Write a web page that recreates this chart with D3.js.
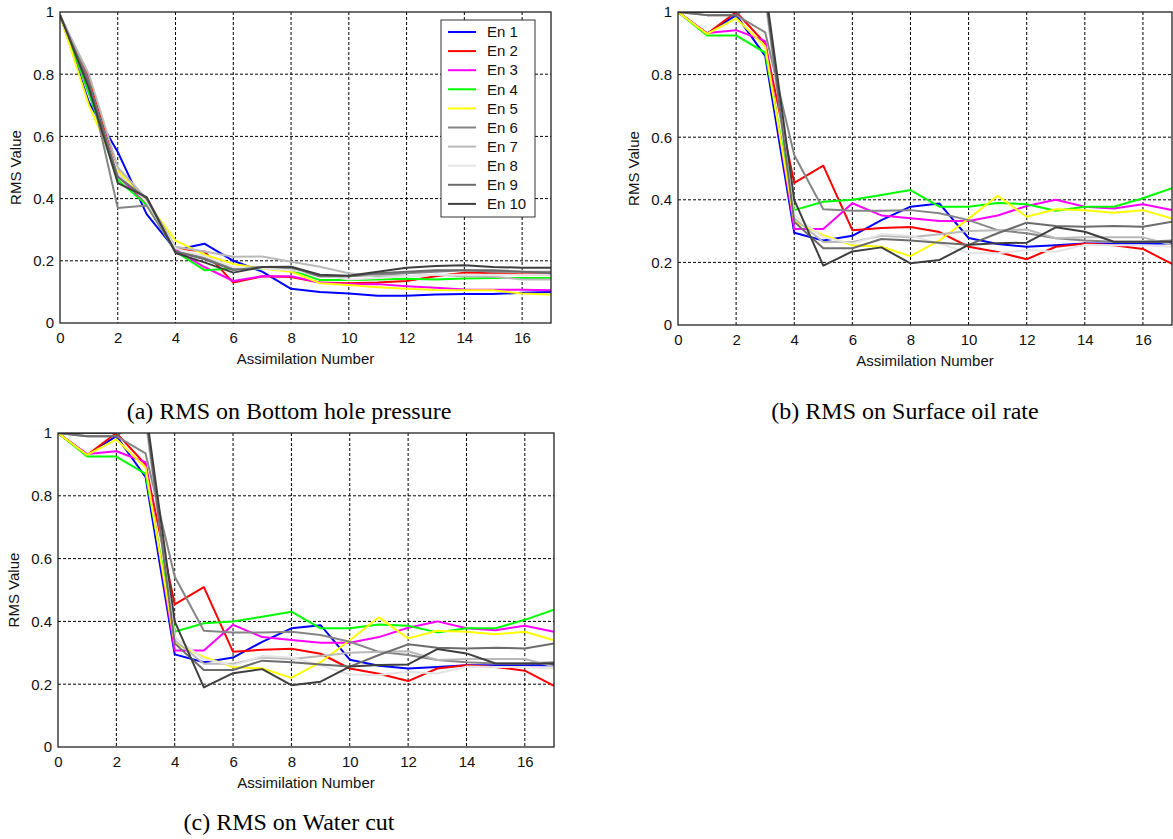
<!DOCTYPE html>
<html>
<head>
<meta charset="utf-8">
<script src="https://cdn.jsdelivr.net/npm/d3@7"></script>
<style>
  body { margin: 0; background: #fff; }
  text { font-family: "Liberation Sans", Arial, sans-serif; }
  text.caption { font-family: "Liberation Serif", "Times New Roman", serif; }
</style>
</head>
<body>
<div id="canvas"></div>
<script>
const steps = [0, 1, 2, 3, 4, 5, 6, 7, 8, 9, 10, 11, 12, 13, 14, 15, 16, 17];
const ensembles = ["En 1", "En 2", "En 3", "En 4", "En 5", "En 6", "En 7", "En 8", "En 9", "En 10"];
const ensembleColors = ["#0000ff", "#ff0000", "#ff00ff", "#00ff00", "#ffff00",
                        "#858585", "#b9b9b9", "#e4e4e4", "#6c6c6c", "#3f3f3f"];
const xTicks = [0, 2, 4, 6, 8, 10, 12, 14, 16];
const yTicks = [0, 0.2, 0.4, 0.6, 0.8, 1];

// (a) bottom hole pressure, one row per ensemble
const bhpRms = [
  [0.99, 0.71, 0.55, 0.35, 0.235, 0.255, 0.20, 0.165, 0.11, 0.10, 0.095, 0.088, 0.088, 0.092, 0.093, 0.093, 0.097, 0.10],
  [0.99, 0.79, 0.49, 0.38, 0.24, 0.23, 0.13, 0.15, 0.148, 0.13, 0.128, 0.13, 0.135, 0.15, 0.162, 0.16, 0.157, 0.157],
  [0.99, 0.74, 0.475, 0.38, 0.235, 0.18, 0.135, 0.15, 0.15, 0.13, 0.125, 0.125, 0.118, 0.113, 0.108, 0.107, 0.107, 0.105],
  [0.99, 0.74, 0.46, 0.38, 0.23, 0.17, 0.175, 0.175, 0.17, 0.138, 0.138, 0.14, 0.142, 0.14, 0.143, 0.145, 0.145, 0.145],
  [0.99, 0.70, 0.49, 0.39, 0.265, 0.22, 0.19, 0.175, 0.165, 0.128, 0.122, 0.115, 0.11, 0.106, 0.105, 0.105, 0.095, 0.092],
  [0.99, 0.78, 0.37, 0.378, 0.23, 0.21, 0.175, 0.18, 0.175, 0.15, 0.15, 0.155, 0.16, 0.165, 0.17, 0.165, 0.165, 0.165],
  [0.99, 0.80, 0.50, 0.40, 0.245, 0.23, 0.213, 0.214, 0.197, 0.181, 0.16, 0.15, 0.15, 0.155, 0.15, 0.149, 0.14, 0.14],
  [0.99, 0.76, 0.48, 0.39, 0.24, 0.215, 0.18, 0.175, 0.17, 0.155, 0.14, 0.145, 0.15, 0.155, 0.155, 0.155, 0.155, 0.155],
  [0.99, 0.77, 0.47, 0.40, 0.23, 0.205, 0.17, 0.18, 0.18, 0.15, 0.15, 0.16, 0.165, 0.17, 0.17, 0.17, 0.165, 0.16],
  [0.99, 0.755, 0.45, 0.405, 0.225, 0.195, 0.162, 0.18, 0.181, 0.155, 0.152, 0.165, 0.178, 0.183, 0.186, 0.18, 0.178, 0.178]
];

// (b) surface oil rate
const oilRms = [
  [1, 0.93, 0.99, 0.86, 0.295, 0.27, 0.285, 0.335, 0.378, 0.388, 0.278, 0.259, 0.25, 0.255, 0.26, 0.26, 0.26, 0.26],
  [1, 0.93, 1.0, 0.90, 0.454, 0.509, 0.303, 0.31, 0.313, 0.297, 0.25, 0.233, 0.21, 0.25, 0.26, 0.255, 0.243, 0.195],
  [1, 0.933, 0.942, 0.907, 0.307, 0.307, 0.389, 0.35, 0.341, 0.332, 0.332, 0.35, 0.38, 0.40, 0.378, 0.372, 0.386, 0.367],
  [1, 0.925, 0.925, 0.87, 0.367, 0.394, 0.40, 0.415, 0.431, 0.378, 0.378, 0.39, 0.386, 0.365, 0.378, 0.378, 0.405, 0.437],
  [1, 0.93, 0.98, 0.89, 0.33, 0.287, 0.255, 0.25, 0.22, 0.27, 0.34, 0.413, 0.346, 0.37, 0.367, 0.359, 0.367, 0.34],
  [1, 0.99, 0.99, 0.935, 0.543, 0.37, 0.365, 0.365, 0.367, 0.357, 0.335, 0.303, 0.293, 0.277, 0.27, 0.266, 0.266, 0.27],
  [1, 1.0, 1.0, 1.04, 0.34, 0.265, 0.265, 0.285, 0.28, 0.29, 0.30, 0.303, 0.305, 0.277, 0.28, 0.28, 0.28, 0.256],
  [1, 1.0, 1.0, 1.05, 0.35, 0.28, 0.26, 0.29, 0.285, 0.26, 0.231, 0.229, 0.24, 0.234, 0.256, 0.255, 0.255, 0.25],
  [1, 0.99, 0.99, 1.06, 0.33, 0.245, 0.245, 0.275, 0.27, 0.263, 0.256, 0.293, 0.327, 0.316, 0.314, 0.316, 0.314, 0.33],
  [1, 1.0, 1.0, 1.08, 0.40, 0.19, 0.235, 0.248, 0.197, 0.208, 0.256, 0.261, 0.263, 0.312, 0.298, 0.266, 0.266, 0.266]
];

// (c) water cut -- same curves as (b) in the figure
const waterRms = oilRms.map(row => row.slice());

const svg = d3.select("#canvas").append("svg")
            .attr("width", 1173)
            .attr("height", 839);

function drawPanel(id, box, series, caption, showLegend) {
    const x = d3.scaleLinear().domain([0, 17]).range([box.left, box.right]);
    const y = d3.scaleLinear().domain([0, 1]).range([box.bottom, box.top]);

    const g = svg.append("g");

    g.append("clipPath").attr("id", id)
     .append("rect")
     .attr("x", box.left).attr("y", box.top)
     .attr("width", box.right - box.left).attr("height", box.bottom - box.top);

    // dashed grid
    g.append("g").selectAll("line")
     .data(xTicks.filter(t => t > 0))
     .join("line")
     .attr("x1", d => x(d)).attr("x2", d => x(d))
     .attr("y1", box.top).attr("y2", box.bottom)
     .attr("stroke", "#000").attr("stroke-dasharray", "3,2");
    g.append("g").selectAll("line")
     .data(yTicks.filter(t => t > 0 && t < 1))
     .join("line")
     .attr("x1", box.left).attr("x2", box.right)
     .attr("y1", d => y(d)).attr("y2", d => y(d))
     .attr("stroke", "#000").attr("stroke-dasharray", "3,2");

    const line = d3.line().x((d, i) => x(steps[i])).y(d => y(d));

    g.append("g").attr("clip-path", `url(#${id})`)
     .selectAll("path")
     .data(series)
     .join("path")
     .attr("d", line)
     .attr("fill", "none")
     .attr("stroke", (d, i) => ensembleColors[i])
     .attr("stroke-width", 2)
     .attr("stroke-linejoin", "round");

    // frame
    g.append("rect")
     .attr("x", box.left).attr("y", box.top)
     .attr("width", box.right - box.left).attr("height", box.bottom - box.top)
     .attr("fill", "none").attr("stroke", "#222").attr("stroke-width", 1.3);

    const xAxis = d3.axisBottom(x).tickValues(xTicks).tickSize(0).tickPadding(9);
    const yAxis = d3.axisLeft(y).tickValues(yTicks).tickSize(0).tickPadding(6)
                    .tickFormat(d => String(d));

    const xg = g.append("g").attr("transform", `translate(0,${box.bottom})`).call(xAxis);
    const yg = g.append("g").attr("transform", `translate(${box.left},0)`).call(yAxis);
    [xg, yg].forEach(a => {
        a.select(".domain").remove();
        a.selectAll("text").attr("font-size", 15).attr("fill", "#111")
         .attr("font-family", "'Liberation Sans', Arial, sans-serif");
    });

    g.append("text")
     .attr("x", (box.left + box.right) / 2)
     .attr("y", box.bottom + 41)
     .attr("text-anchor", "middle")
     .attr("font-size", 15).attr("fill", "#111")
     .text("Assimilation Number");

    g.append("text")
     .attr("transform", `translate(${box.left - 39},${(box.top + box.bottom) / 2}) rotate(-90)`)
     .attr("text-anchor", "middle")
     .attr("font-size", 15).attr("fill", "#111")
     .text("RMS Value");

    g.append("text")
     .attr("class", "caption")
     .attr("x", caption.x).attr("y", caption.y)
     .attr("text-anchor", "middle")
     .attr("font-size", 24).attr("fill", "#000")
     .text(caption.text);

    if (showLegend) {
        const lg = g.append("g");
        lg.append("rect")
          .attr("x", 441).attr("y", 20).attr("width", 94).attr("height", 197)
          .attr("fill", "#fff").attr("stroke", "#333");
        const item = lg.selectAll("g.item")
          .data(ensembles)
          .join("g").attr("class", "item")
          .attr("transform", (d, i) => `translate(448,${32 + i * 19.1})`);
        item.append("line")
          .attr("x1", 0).attr("x2", 28)
          .attr("stroke", (d, i) => ensembleColors[i]).attr("stroke-width", 2);
        item.append("text")
          .attr("x", 39).attr("dy", "0.35em")
          .attr("font-size", 15).attr("fill", "#111")
          .text(d => d);
    }
}

drawPanel("clipA", { left: 60, right: 551, top: 12, bottom: 323 }, bhpRms,
          { text: "(a) RMS on Bottom hole pressure", x: 289, y: 419 }, true);
drawPanel("clipB", { left: 678, right: 1172, top: 12, bottom: 325 }, oilRms,
          { text: "(b) RMS on Surface oil rate", x: 905, y: 419 }, false);
drawPanel("clipC", { left: 58, right: 554, top: 433, bottom: 747 }, waterRms,
          { text: "(c) RMS on Water cut", x: 289, y: 830 }, false);
</script>
</body>
</html>
